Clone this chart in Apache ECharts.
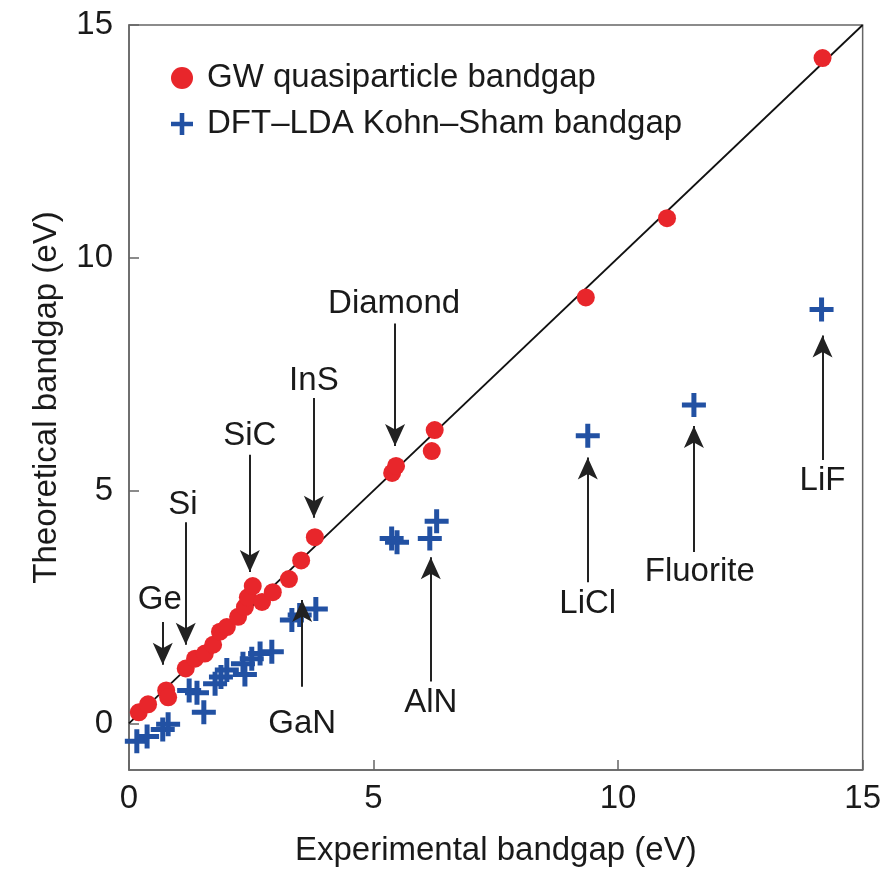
<!DOCTYPE html>
<html>
<head>
<meta charset="utf-8">
<script src="https://cdn.jsdelivr.net/npm/echarts@6/dist/echarts.min.js"></script>
<style>
html,body{margin:0;padding:0;background:#fff;}
#chart{width:884px;height:872px;}
</style>
</head>
<body>
<div id="chart"></div>
<script>
// GW quasiparticle bandgap (experimental, theoretical)
var gwExp = [0.20,0.39,0.76,0.80,1.16,1.35,1.55,1.72,1.86,2.00,2.23,2.37,2.43,2.53,2.72,2.94,3.27,3.52,3.80,5.38,5.46,6.19,6.25,9.34,11.00,14.18];
var gwTheo = [0.24,0.41,0.71,0.56,1.18,1.39,1.50,1.69,1.97,2.07,2.29,2.50,2.71,2.95,2.61,2.82,3.10,3.50,4.00,5.38,5.53,5.85,6.30,9.15,10.85,14.29];
// DFT-LDA Kohn-Sham bandgap
var ldaExp = [0.16,0.37,0.69,0.80,1.23,1.39,1.53,1.76,1.88,2.00,2.33,2.37,2.51,2.68,2.92,3.33,3.49,3.82,5.37,5.48,6.15,6.29,9.38,11.55,14.16];
var ldaTheo = [-0.38,-0.28,-0.13,-0.02,0.71,0.66,0.24,0.85,1.00,1.15,1.28,1.05,1.39,1.50,1.54,2.22,2.33,2.46,3.97,3.89,3.97,4.34,6.18,6.84,8.89];
// diagonal y = x
var diagonal = [[0,0],[15,15]];
// annotations
var annLabels = ['Ge','Si','SiC','InS','Diamond','GaN','AlN','LiCl','Fluorite','LiF'];
var annTextX = [0.63,1.10,2.47,3.78,5.42,3.54,6.17,9.38,11.67,14.18];
var annTextY = [2.65,4.70,6.18,7.35,9.00,-0.02,0.45,2.56,3.25,5.21];
var arrowX = [0.69,1.16,2.47,3.78,5.44,3.54,6.17,9.38,11.55,14.18];
var arrowFrom = [2.18,4.32,5.77,6.99,8.59,0.79,0.90,3.03,3.68,5.66];
var arrowTo = [1.26,1.69,3.25,4.42,5.96,2.65,3.57,5.71,6.39,8.33];
var xTicks = [0,5,10,15];
var yTicks = [0,5,10,15];

var FONT = '"Liberation Sans", Arial, sans-serif';
var plusPath = 'path://M0,9.5H24V14.5H0Z M9.5,0H14.5V24H9.5Z';

var gwData = gwExp.map(function(v,i){return [v, gwTheo[i]];});
var ldaData = ldaExp.map(function(v,i){return [v, ldaTheo[i]];});
var annData = annLabels.map(function(n,i){return {name:n, value:[annTextX[i], annTextY[i]]};});
var arrowData = arrowX.map(function(x,i){return [{coord:[x, arrowFrom[i]]},{coord:[x, arrowTo[i]]}];});

var chart = echarts.init(document.getElementById('chart'), null, {renderer:'canvas'});
chart.setOption({
  animation:false,
  backgroundColor:'#fff',
  textStyle:{fontFamily:FONT},
  grid:{left:129, right:21, top:25, bottom:101, show:true, borderColor:'#666', borderWidth:1.5, backgroundColor:'transparent'},
  legend:{
    data:['GW quasiparticle bandgap','DFT\u2013LDA Kohn\u2013Sham bandgap'],
    orient:'vertical', left:166, top:53, itemWidth:24, itemHeight:22, itemGap:6,
    textStyle:{fontSize:33, color:'#1a1a1a', fontFamily:FONT, lineHeight:40, padding:[0,0,0,8]}
  },
  xAxis:{
    type:'value', min:0, max:15, interval:5,
    name:'Experimental bandgap (eV)', nameLocation:'middle', nameGap:64,
    nameTextStyle:{fontSize:33, color:'#1a1a1a', fontFamily:FONT},
    axisLine:{show:true, onZero:false, lineStyle:{color:'#666', width:1.5}},
    axisTick:{show:true, inside:true, length:10, customValues:xTicks, lineStyle:{color:'#666', width:1.5}},
    axisLabel:{fontSize:33, color:'#1a1a1a', margin:12, customValues:xTicks, fontFamily:FONT},
    splitLine:{show:false}
  },
  yAxis:{
    type:'value', min:-1, max:15,
    name:'Theoretical bandgap (eV)', nameLocation:'middle', nameGap:66,
    nameTextStyle:{fontSize:33, color:'#1a1a1a', fontFamily:FONT},
    axisLine:{show:true, onZero:false, lineStyle:{color:'#666', width:1.5}},
    axisTick:{show:true, inside:true, length:10, customValues:yTicks, lineStyle:{color:'#666', width:1.5}},
    axisLabel:{fontSize:33, color:'#1a1a1a', margin:16, customValues:yTicks, fontFamily:FONT},
    splitLine:{show:false}
  },
  series:[
    {
      type:'line', data:diagonal, symbol:'none', silent:true,
      lineStyle:{color:'#111', width:1.8}, z:1
    },
    {
      name:'DFT\u2013LDA Kohn\u2013Sham bandgap', type:'scatter', data:ldaData,
      symbol:plusPath, symbolSize:24, itemStyle:{color:'#2251a3', opacity:1}, z:3
    },
    {
      name:'GW quasiparticle bandgap', type:'scatter', data:gwData,
      symbol:'circle', symbolSize:18, itemStyle:{color:'#e8262b', opacity:1}, z:4
    },
    {
      name:'annotations', type:'scatter', data:annData, symbol:'circle', symbolSize:0,
      itemStyle:{color:'#1a1a1a', opacity:1}, silent:true, z:5,
      label:{show:true, position:'inside', formatter:'{b}', fontSize:33, color:'#1a1a1a', fontFamily:FONT},
      markLine:{
        silent:true, symbol:['none','arrow'], symbolSize:[15,22],
        label:{show:false},
        itemStyle:{color:'#222'},
        lineStyle:{color:'#222', width:2, type:'solid', opacity:1},
        emphasis:{disabled:true},
        data:arrowData
      }
    }
  ]
});
</script>
</body>
</html>
